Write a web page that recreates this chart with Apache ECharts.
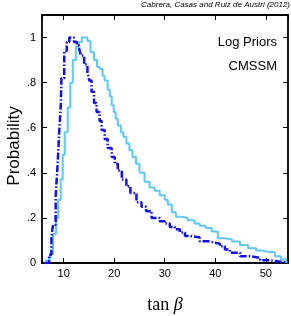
<!DOCTYPE html>
<html><head><meta charset="utf-8">
<script src="https://cdn.jsdelivr.net/npm/echarts@6/dist/echarts.min.js"></script>
<style>html,body{margin:0;padding:0;background:#fff}#c{width:291px;height:316px}</style>
</head><body><div id="c"></div>
<script>
const xTicks = [10, 20, 30, 40, 50];
const yTicks = [0, 0.2, 0.4, 0.6, 0.8, 1];
const lightX = [6.3, 6.5, 7.0, 7.4, 7.9, 8.5, 8.9, 9.4, 9.8, 10.2, 10.8, 11.3, 11.8, 12.4, 13.0, 13.6, 14.7, 15.3, 16.0, 16.6, 17.1, 17.7, 18.1, 18.7, 19.1, 19.5, 19.9, 20.3, 20.7, 21.3, 21.8, 22.4, 23.0, 23.6, 24.3, 25.0, 26.0, 27.0, 28.0, 29.0, 30.0, 30.6, 31.4, 32.2, 33.4, 34.5, 35.9, 36.9, 38.1, 39.3, 40.5, 41.7, 43.3, 44.9, 46.5, 48.1, 49.2, 50.4, 51.8, 53.0, 54.0, 54.4];
const lightY = [0, 0.01, 0.02, 0.04, 0.13, 0.2, 0.28, 0.37, 0.48, 0.58, 0.69, 0.80, 0.90, 0.96, 0.98, 1.0, 0.985, 0.935, 0.90, 0.87, 0.86, 0.83, 0.81, 0.77, 0.74, 0.70, 0.67, 0.64, 0.61, 0.58, 0.56, 0.53, 0.50, 0.47, 0.44, 0.40, 0.36, 0.335, 0.32, 0.30, 0.28, 0.26, 0.225, 0.205, 0.20, 0.19, 0.175, 0.165, 0.155, 0.14, 0.11, 0.105, 0.095, 0.08, 0.065, 0.055, 0.05, 0.048, 0.03, 0.015, 0.003, 0];
const darkX = [6.3, 7.1, 7.56, 7.9, 8.4, 8.65, 8.8, 9.1, 9.4, 9.55, 10.1, 10.6, 11.1, 12.05, 12.6, 13.05, 13.4, 14.05, 14.7, 15.05, 15.5, 16.0, 16.5, 17.1, 17.5, 18.1, 18.7, 19.5, 20.1, 20.7, 21.5, 22.4, 23.2, 24.4, 25.4, 26.3, 27.4, 29.0, 30.0, 31.0, 32.0, 33.0, 34.0, 35.0, 36.9, 38.9, 39.9, 40.9, 41.9, 42.9, 44.9, 46.9, 48.9, 50.9, 52.9, 54.4];
const darkY = [0, 0.037, 0.118, 0.17, 0.295, 0.385, 0.44, 0.58, 0.69, 0.82, 0.94, 0.98, 1.0, 0.98, 0.965, 0.95, 0.92, 0.88, 0.846, 0.81, 0.76, 0.71, 0.67, 0.63, 0.59, 0.55, 0.51, 0.47, 0.44, 0.41, 0.37, 0.34, 0.31, 0.27, 0.25, 0.23, 0.2, 0.185, 0.175, 0.16, 0.15, 0.135, 0.12, 0.113, 0.096, 0.09, 0.086, 0.074, 0.06, 0.046, 0.03, 0.022, 0.012, 0.006, 0.001, 0];

const pair = (xs, ys) => xs.map((x, i) => [x, ys[i]]);
const XMIN = 5.7, XMAX = 54.4, YMIN = 0, YMAX = 1.1;
const axisLine = {show: true, onZero: false, lineStyle: {color: '#000', width: 1.8}};
const tick = {show: true, inside: true, length: 5, lineStyle: {color: '#000', width: 1}};
const font = 'Liberation Sans';

const chart = echarts.init(document.getElementById('c'), null, {renderer: 'canvas'});
chart.setOption({
  animation: false,
  backgroundColor: '#fff',
  grid: {left: 42, right: 3, top: 15, bottom: 53, containLabel: false},
  xAxis: [
    {type: 'value', min: XMIN, max: XMAX, position: 'bottom', axisLine, axisTick: tick, splitLine: {show: false},
     axisLabel: {margin: 5, fontSize: 11, fontFamily: font, color: '#000',
       formatter: v => xTicks.includes(Math.round(v*1000)/1000) ? String(v) : ''}},
    {type: 'value', min: XMIN, max: XMAX, position: 'top', axisLine, axisTick: tick, splitLine: {show: false}, axisLabel: {show: false}}
  ],
  yAxis: [
    {type: 'value', min: YMIN, max: YMAX, interval: 0.2, position: 'left', axisLine, axisTick: tick, splitLine: {show: false},
     axisLabel: {margin: 6, fontSize: 11, fontFamily: font, color: '#000',
       formatter: v => {const r = Math.round(v*1000)/1000; if (!yTicks.includes(r)) return ''; if (r === 0) return '0'; if (r === 1) return '1'; return String(r).replace(/^0/, '');}}},
    {type: 'value', min: YMIN, max: YMAX, interval: 0.2, position: 'right', axisLine, axisTick: tick, splitLine: {show: false}, axisLabel: {show: false}}
  ],
  series: [
    {type: 'line', step: 'end', data: pair(lightX, lightY), showSymbol: false, clip: true,
     lineStyle: {color: '#5ec8f8', width: 2}, z: 2},
    {type: 'line', step: 'end', data: pair(darkX, darkY), showSymbol: false, clip: true,
     lineStyle: {color: '#1010f0', width: 2.5, type: [7, 2, 1.5, 2]}, z: 3}
  ],
  graphic: [
    {type: 'text', x: 290, y: 1, style: {text: 'Cabrera, Casas and Ruiz de Austri (2012)', font: 'italic 8px "Liberation Sans"', fill: '#000', align: 'right', verticalAlign: 'top'}},
    {type: 'text', x: 277, y: 42, style: {text: 'Log Priors', font: '13px "Liberation Sans"', fill: '#000', align: 'right', verticalAlign: 'middle'}},
    {type: 'text', x: 277, y: 66, style: {text: 'CMSSM', font: '13px "Liberation Sans"', fill: '#000', align: 'right', verticalAlign: 'middle'}},
    {type: 'text', x: 14, y: 146, rotation: Math.PI/2, style: {text: 'Probability', font: '17px "Liberation Sans"', fill: '#000', align: 'center', verticalAlign: 'middle'}},
    {type: 'text', x: 165, y: 305, style: {text: '{a|tan }{b|β}', fill: '#000', align: 'center', verticalAlign: 'middle',
      rich: {a: {font: '18px "Liberation Serif"'}, b: {font: 'italic 18px "Liberation Serif"'}}}}
  ]
});
</script></body></html>
